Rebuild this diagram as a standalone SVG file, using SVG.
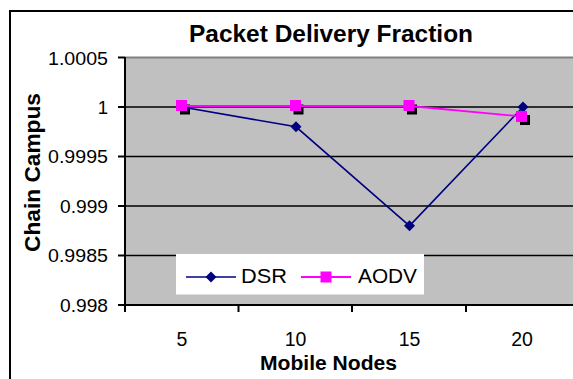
<svg xmlns="http://www.w3.org/2000/svg" width="573" height="379" viewBox="0 0 573 379">
<style>
.t{font-family:"Liberation Sans",Arial,sans-serif;fill:#000}
.b{font-weight:bold}
.grid{stroke:#000;stroke-width:1.6}
.dsr{stroke:#000080;stroke-width:1.6;fill:none}
.aodv{stroke:#FF00FF;stroke-width:1.8;fill:none}
</style>
<defs>
<path id="dia" d="M0,-5.5 L5.5,0 L0,5.5 L-5.5,0 Z" fill="#000080"/>
<rect id="sq" x="-5.5" y="-5.5" width="11" height="11" fill="#FF00FF"/>
<rect id="sh" x="-5" y="-5" width="10" height="10" fill="#000"/>
</defs>
<rect x="0" y="0" width="573" height="379" fill="#fff"/>
<rect x="10" y="11" width="620" height="420" fill="#fff" stroke="#000" stroke-width="2"/>
<g id="plot">
<rect x="125" y="57.5" width="460" height="247.5" fill="#C0C0C0"/>
<line x1="125" y1="57.5" x2="585" y2="57.5" stroke="#808080" stroke-width="2"/>
<line class="grid" x1="125" y1="107" x2="585" y2="107"/>
<line class="grid" x1="125" y1="156.5" x2="585" y2="156.5"/>
<line class="grid" x1="125" y1="206" x2="585" y2="206"/>
<line class="grid" x1="125" y1="255.5" x2="585" y2="255.5"/>
</g>
<g id="axes">
<line x1="125" y1="57" x2="125" y2="312" stroke="#000" stroke-width="2"/>
<line x1="118" y1="305" x2="585" y2="305" stroke="#000" stroke-width="2"/>
<g stroke="#000" stroke-width="2">
<line x1="118" y1="57.5" x2="125" y2="57.5"/>
<line x1="118" y1="107" x2="125" y2="107"/>
<line x1="118" y1="156.5" x2="125" y2="156.5"/>
<line x1="118" y1="206" x2="125" y2="206"/>
<line x1="118" y1="255.5" x2="125" y2="255.5"/>
<line x1="238.5" y1="305" x2="238.5" y2="312"/>
<line x1="352" y1="305" x2="352" y2="312"/>
<line x1="466" y1="305" x2="466" y2="312"/>
</g>
<g class="t" font-size="18.5" text-anchor="end">
<text x="108" y="64.5" textLength="60" lengthAdjust="spacingAndGlyphs">1.0005</text>
<text x="108" y="113.5">1</text>
<text x="108" y="163" textLength="60" lengthAdjust="spacingAndGlyphs">0.9995</text>
<text x="108" y="212.5" textLength="48" lengthAdjust="spacingAndGlyphs">0.999</text>
<text x="108" y="262" textLength="60" lengthAdjust="spacingAndGlyphs">0.9985</text>
<text x="108" y="311.5" textLength="48" lengthAdjust="spacingAndGlyphs">0.998</text>
</g>
<g class="t" font-size="19.5" text-anchor="middle">
<text x="182" y="346">5</text>
<text x="295.5" y="346">10</text>
<text x="409.5" y="346">15</text>
<text x="522" y="346">20</text>
</g>
</g>
<g id="title"><text class="t b" x="331" y="42" font-size="23" text-anchor="middle" textLength="284" lengthAdjust="spacingAndGlyphs">Packet Delivery Fraction</text></g>
<g id="ytitle"><text class="t b" transform="translate(39.5,172.5) rotate(-90)" font-size="21.5" text-anchor="middle" textLength="159" lengthAdjust="spacingAndGlyphs">Chain Campus</text></g>
<g id="xtitle"><text class="t b" x="328.5" y="370" font-size="19.5" text-anchor="middle" textLength="137" lengthAdjust="spacingAndGlyphs">Mobile Nodes</text></g>
<g id="connectors">
<use href="#sh" x="185" y="109.5"/>
<use href="#sh" x="298.5" y="109.5"/>
<use href="#sh" x="412" y="109.5"/>
<use href="#sh" x="525" y="120"/>
<polyline class="dsr" points="182,107 296,126.8 409.5,225.8 523,107"/>
<polyline class="aodv" points="182,106 296,106 409.5,106 522,116.5"/>
</g>
<g id="dsr-points">
<use href="#dia" x="182" y="107"/>
<use href="#dia" x="296" y="126.8"/>
<use href="#dia" x="409.5" y="225.8"/>
<use href="#dia" x="523" y="107"/>
</g>
<g id="aodv-points">
<use href="#sq" x="181.5" y="105.5"/>
<use href="#sq" x="295.5" y="105.5"/>
<use href="#sq" x="409" y="105.5"/>
<use href="#sq" x="521.5" y="116.5"/>
</g>
<g id="legend">
<rect x="176" y="254" width="248" height="40.5" fill="#fff"/>
<line class="dsr" x1="186" y1="277" x2="236" y2="277"/>
<use href="#dia" x="211" y="277"/>
<text class="t" x="241" y="283" font-size="20" textLength="46" lengthAdjust="spacingAndGlyphs">DSR</text>
<line class="aodv" x1="301" y1="277" x2="351" y2="277"/>
<use href="#sq" x="326" y="277"/>
<text class="t" x="358" y="283" font-size="20" textLength="59" lengthAdjust="spacingAndGlyphs">AODV</text>
</g>
</svg>
